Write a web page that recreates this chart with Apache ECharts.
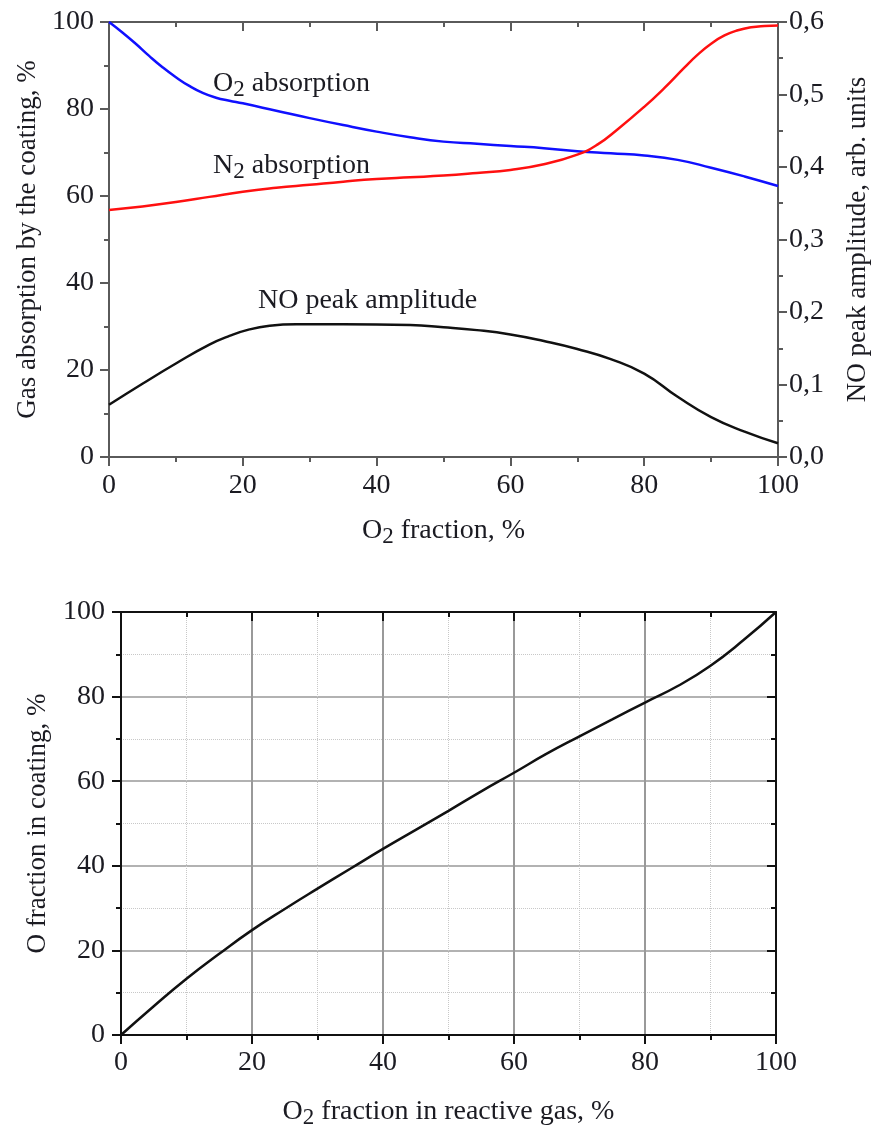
<!DOCTYPE html>
<html>
<head>
<meta charset="utf-8">
<title>Gas absorption and O fraction</title>
<script src="https://cdn.jsdelivr.net/npm/echarts@6/dist/echarts.min.js"></script>
<style>
  html, body { margin: 0; padding: 0; background: #fff; }
  #chart { width: 873px; height: 1125px; }
</style>
</head>
<body>
<div id="chart"></div>
<script>
// top panel: gas absorption (%) and NO peak amplitude vs O2 fraction
const o2AbsX = [0, 2, 4, 6, 8, 10, 12, 14, 16, 18, 20, 25, 30, 35, 40, 45, 50, 55, 60, 65, 70, 75, 80, 85, 90, 95, 100]
const o2AbsY = [100, 97.6, 95, 92.2, 89.6, 87.3, 85.3, 83.7, 82.6, 81.9, 81.3, 79.6, 77.9, 76.3, 74.8, 73.5, 72.5, 72.0, 71.5, 71.0, 70.3, 69.8, 69.3, 68.3, 66.5, 64.5, 62.3]

const n2AbsX = [0, 5, 10, 15, 20, 25, 30, 35, 40, 45, 50, 55, 60, 65, 70, 73, 76, 80, 83, 86, 88, 90, 92, 94, 96, 98, 100]
const n2AbsY = [56.8, 57.6, 58.6, 59.8, 61, 61.9, 62.6, 63.3, 63.9, 64.3, 64.7, 65.3, 66.0, 67.3, 69.5, 71.8, 75.3, 80.5, 84.8, 89.5, 92.5, 95, 96.9, 98.1, 98.8, 99.1, 99.2]

const noPeakX = [0, 5, 10, 15, 18, 21, 24, 28, 35, 45, 50, 55, 60, 65, 70, 75, 80, 85, 90, 95, 100]
const noPeakY = [0.072, 0.101, 0.129, 0.155, 0.167, 0.176, 0.181, 0.183, 0.183, 0.182, 0.179, 0.175, 0.169, 0.16, 0.149, 0.135, 0.115, 0.083, 0.055, 0.035, 0.019]

// bottom panel: O fraction in coating vs O2 fraction in reactive gas
const coatX = [0, 5, 10, 15, 20, 25, 30, 35, 40, 45, 50, 55, 60, 65, 70, 75, 80, 85, 90, 95, 100]
const coatY = [0, 6.8, 13.3, 19.2, 24.8, 29.8, 34.6, 39.3, 44, 48.5, 53, 57.6, 62, 66.5, 70.6, 74.6, 78.6, 82.5, 87.3, 93.3, 100]

const FONT = '"Liberation Serif", "DejaVu Serif", serif'
const TXT = '#1b1b22'

function pairs(xs, ys) {
  return xs.map(function(x, i) { return [x, ys[i]] })
}

const richName = {
  n: { fontSize: 28, fontFamily: FONT, color: TXT },
  s: { fontSize: 23, fontFamily: FONT, color: TXT, padding: [12, 0, 0, 0] }
}

function frameAxis(color, tickInside, extra) {
  const ax = {
    min: 0,
    max: 100,
    interval: 20,
    axisLine: { show: true, onZero: false, lineStyle: { color: color, width: 2 } },
    axisTick: { show: true, inside: tickInside, length: 9, lineStyle: { color: color, width: 2 } },
    minorTick: { show: true, splitNumber: 2, length: 5, lineStyle: { color: color, width: 2 } },
    axisLabel: { show: false },
    splitLine: { show: false }
  }
  return Object.assign(ax, extra || {})
}

const labelStyle = { fontSize: 28, fontFamily: FONT, color: TXT }

const chart = echarts.init(document.getElementById('chart'))

chart.setOption({
  animation: false,
  backgroundColor: '#fff',
  grid: [
    { left: 109, right: 95, top: 22, bottom: 668, containLabel: false, outerBoundsMode: 'none' },
    { left: 121, right: 97, top: 612, bottom: 90, containLabel: false, outerBoundsMode: 'none' }
  ],
  xAxis: [
    frameAxis('#5a5a5a', false, {
      type: 'value', gridIndex: 0, position: 'bottom',
      axisLabel: Object.assign({ show: true, margin: 15 }, labelStyle),
      name: '{n|O}{s|2}{n| fraction, %}',
      nameLocation: 'middle',
      nameGap: 56,
      nameTextStyle: { rich: richName }
    }),
    frameAxis('#5a5a5a', true, { type: 'value', gridIndex: 0, position: 'top' }),
    frameAxis('#111', false, {
      type: 'value', gridIndex: 1, position: 'bottom',
      axisLabel: Object.assign({ show: true, margin: 14 }, labelStyle),
      splitLine: { show: true, lineStyle: { color: '#999', width: 2 } },
      minorSplitLine: { show: true, lineStyle: { color: '#c8c8c8', width: 1, type: 'dotted' } },
      name: '{n|O}{s|2}{n| fraction in reactive gas, %}',
      nameLocation: 'middle',
      nameGap: 59,
      nameTextStyle: { rich: richName }
    }),
    frameAxis('#111', true, { type: 'value', gridIndex: 1, position: 'top' })
  ],
  yAxis: [
    frameAxis('#5a5a5a', false, {
      type: 'value', gridIndex: 0, position: 'left',
      axisLabel: Object.assign({ show: true, margin: 15 }, labelStyle),
      name: 'Gas absorption by the coating, %',
      nameLocation: 'middle',
      nameRotate: 90,
      nameGap: 66,
      nameTextStyle: { fontSize: 27, fontFamily: FONT, color: TXT }
    }),
    frameAxis('#5a5a5a', false, {
      type: 'value', gridIndex: 0, position: 'right',
      max: 0.6, interval: 0.1,
      axisLabel: Object.assign({
        show: true, margin: 11,
        formatter: function(v) { return v.toFixed(1).replace('.', ',') }
      }, labelStyle),
      name: 'NO peak amplitude, arb. units',
      nameLocation: 'middle',
      nameRotate: 90,
      nameGap: 66,
      nameTextStyle: { fontSize: 27, fontFamily: FONT, color: TXT }
    }),
    frameAxis('#111', false, {
      type: 'value', gridIndex: 1, position: 'left',
      axisLabel: Object.assign({ show: true, margin: 16 }, labelStyle),
      splitLine: { show: true, lineStyle: { color: '#999', width: 1.5 } },
      minorSplitLine: { show: true, lineStyle: { color: '#c8c8c8', width: 1, type: 'dotted' } },
      name: 'O fraction in coating, %',
      nameLocation: 'middle',
      nameRotate: 90,
      nameGap: 70,
      nameTextStyle: { fontSize: 27, fontFamily: FONT, color: TXT }
    }),
    frameAxis('#111', true, { type: 'value', gridIndex: 1, position: 'right' })
  ],
  graphic: [
    {
      type: 'text', left: 213, top: 70,
      style: { text: '{n|O}{s|2}{n| absorption}', rich: {
        n: { fontSize: 28, fontFamily: FONT, fill: TXT },
        s: { fontSize: 23, fontFamily: FONT, fill: TXT, padding: [12, 0, 0, 0] }
      } }
    },
    {
      type: 'text', left: 213, top: 152,
      style: { text: '{n|N}{s|2}{n| absorption}', rich: {
        n: { fontSize: 28, fontFamily: FONT, fill: TXT },
        s: { fontSize: 23, fontFamily: FONT, fill: TXT, padding: [12, 0, 0, 0] }
      } }
    },
    {
      type: 'text', left: 258, top: 287,
      style: { text: 'NO peak amplitude', fontSize: 28, fontFamily: FONT, fill: TXT }
    }
  ],
  series: [
    {
      name: 'O2 absorption', type: 'line', xAxisIndex: 0, yAxisIndex: 0,
      smooth: true, showSymbol: false,
      lineStyle: { color: '#1010ff', width: 2.5 },
      data: pairs(o2AbsX, o2AbsY)
    },
    {
      name: 'N2 absorption', type: 'line', xAxisIndex: 0, yAxisIndex: 0,
      smooth: true, showSymbol: false,
      lineStyle: { color: '#ff1010', width: 2.5 },
      data: pairs(n2AbsX, n2AbsY)
    },
    {
      name: 'NO peak amplitude', type: 'line', xAxisIndex: 0, yAxisIndex: 1,
      smooth: true, showSymbol: false,
      lineStyle: { color: '#111', width: 2.5 },
      data: pairs(noPeakX, noPeakY)
    },
    {
      name: 'O fraction in coating', type: 'line', xAxisIndex: 2, yAxisIndex: 2,
      smooth: true, showSymbol: false,
      lineStyle: { color: '#111', width: 2.5 },
      data: pairs(coatX, coatY)
    }
  ]
})
</script>
</body>
</html>
